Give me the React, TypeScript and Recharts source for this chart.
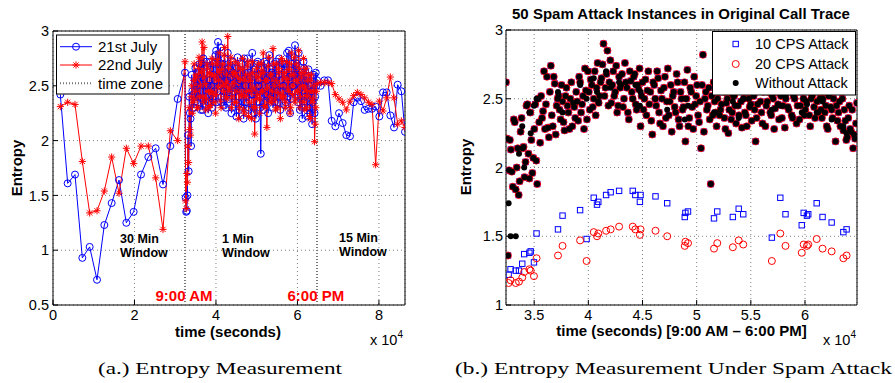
import React from 'react';
import {
  ComposedChart, ScatterChart, Line, Scatter, XAxis, YAxis,
  CartesianGrid, ReferenceLine, ReferenceArea,
} from 'recharts';

const SANS = '"Liberation Sans", Arial, Helvetica, sans-serif';
const SERIF = '"Liberation Serif", "DejaVu Serif", serif';

// ---------- shared time constants (seconds) ----------
const NINE_AM = 32400;
const SIX_PM = 64800;
const DAY_END = 86400;

// ---------- (a) Entropy Measurement ----------
const STEP_30MIN = 1800;
const STEP_1MIN_SAMPLED = 300;
const STEP_15MIN = 900;

// 30-minute window (00:30 .. 09:00)
const blue30 = [2.42, 1.61, 1.69, 0.93, 1.03, 0.73, 1.23, 1.43, 1.64, 1.25, 1.35, 1.69, 1.85, 1.93, 1.6, 1.95, 2.38, 2.62];
const red30 = [2.31, 2.35, 2.33, 1.81, 1.34, 1.36, 1.54, 1.85, 1.52, 1.93, 1.79, 1.95, 1.95, 1.66, 1.19, 2.09, 2.0, 2.72];

// 1-minute window (09:00 .. 18:00), samples on the full 5-min marks
const blue1 = [
  1.35, 1.5, 1.72, 2.25, 1.95, 2.45, 2.3, 2.52, 2.36, 2.62,
  2.4, 2.7, 2.28, 2.58, 2.75, 2.33, 2.5, 2.68, 2.25, 2.55,
  2.72, 2.3, 2.6, 2.45, 2.78, 2.35, 2.9, 2.5, 2.85, 2.4,
  2.7, 2.32, 2.62, 2.48, 2.8, 2.38, 2.65, 2.25, 2.72, 2.45,
  2.6, 2.22, 2.76, 2.4, 2.55, 2.3, 2.7, 2.2, 2.62, 2.35,
  2.75, 2.28, 2.58, 2.42, 2.8, 2.3, 2.65, 2.2, 2.7, 2.5,
  2.35, 1.88, 2.6, 2.28, 2.72, 2.42, 2.55, 2.25, 2.78, 2.4,
  2.62, 2.3, 2.7, 2.48, 2.58, 2.35, 2.75, 2.28, 2.65, 2.45,
  2.7, 2.32, 2.7, 2.4, 2.82, 2.25, 2.6, 2.5, 2.76, 2.87,
  2.68, 2.42, 2.8, 2.28, 2.62, 2.2, 2.72, 2.36, 2.55, 2.22,
  2.65, 2.3, 2.5, 2.15, 2.58, 2.25, 2.62, 2.55,
];
// ... and on the half-way marks between them
const blue1b = [
  1.48, 1.36, 2.05, 2.4, 2.2, 2.6, 2.42, 2.3, 2.66, 2.5,
  2.35, 2.62, 2.45, 2.7, 2.28, 2.56, 2.4, 2.72, 2.5, 2.35,
  2.65, 2.5, 2.38, 2.7, 2.55, 2.82, 2.45, 2.7, 2.58, 2.35,
  2.6, 2.45, 2.75, 2.3, 2.55, 2.66, 2.4, 2.58, 2.3, 2.62,
  2.48, 2.35, 2.66, 2.52, 2.28, 2.62, 2.45, 2.35, 2.75, 2.5,
  2.4, 2.62, 2.3, 2.7, 2.5, 2.42, 2.25, 2.6, 2.45, 2.72,
  2.55, 2.3, 2.45, 2.65, 2.35, 2.58, 2.7, 2.42, 2.5, 2.6,
  2.38, 2.66, 2.5, 2.35, 2.72, 2.45, 2.6, 2.4, 2.55, 2.7,
  2.5, 2.62, 2.35, 2.8, 2.45, 2.58, 2.38, 2.7, 2.5, 2.6,
  2.45, 2.7, 2.35, 2.6, 2.48, 2.3, 2.55, 2.66, 2.4, 2.58,
  2.3, 2.5, 2.25, 2.45, 2.35, 2.6, 2.4, 2.5,
];
const red1 = [
  1.38, 1.62, 1.8, 2.1, 2.4, 2.25, 2.55, 2.38, 2.6, 2.3,
  2.66, 2.4, 2.72, 2.9, 2.35, 2.58, 2.28, 2.7, 2.45, 2.62,
  2.32, 2.75, 2.42, 2.6, 2.25, 2.7, 2.48, 2.8, 2.36, 2.65,
  2.5, 2.78, 2.4, 2.6, 2.95, 2.45, 2.7, 2.3, 2.62, 2.52,
  2.72, 2.35, 2.58, 2.2, 2.66, 2.42, 2.75, 2.28, 2.55, 2.4,
  2.68, 2.22, 2.6, 2.45, 2.72, 2.3, 2.06, 2.58, 2.38, 2.7,
  2.25, 2.62, 2.45, 2.8, 2.32, 2.55, 2.12, 2.68, 2.4, 2.6,
  2.35, 2.84, 2.5, 2.28, 2.7, 2.44, 2.62, 2.2, 2.75, 2.38,
  2.58, 2.3, 2.72, 2.48, 2.65, 2.25, 2.8, 2.42, 2.6, 2.35,
  2.7, 2.45, 2.82, 2.3, 2.62, 2.5, 2.75, 2.28, 2.66, 2.4,
  2.6, 2.22, 2.55, 2.35, 2.45, 1.99, 2.3, 2.52,
];
const red1b = [
  1.45, 1.7, 1.95, 2.3, 2.05, 2.5, 2.35, 2.7, 2.45, 2.58,
  2.3, 2.76, 2.5, 2.62, 2.4, 2.85, 2.52, 2.38, 2.66, 2.3,
  2.6, 2.45, 2.7, 2.35, 2.58, 2.42, 2.74, 2.55, 2.62, 2.3,
  2.7, 2.45, 2.85, 2.52, 2.38, 2.66, 2.48, 2.76, 2.4, 2.6,
  2.35, 2.62, 2.45, 2.7, 2.3, 2.56, 2.4, 2.65, 2.25, 2.6,
  2.45, 2.72, 2.35, 2.55, 2.2, 2.62, 2.48, 2.3, 2.66, 2.42,
  2.58, 2.38, 2.7, 2.45, 2.62, 2.3, 2.55, 2.48, 2.76, 2.35,
  2.6, 2.45, 2.7, 2.38, 2.55, 2.3, 2.66, 2.5, 2.42, 2.72,
  2.4, 2.62, 2.35, 2.56, 2.45, 2.7, 2.3, 2.6, 2.5, 2.76,
  2.38, 2.55, 2.45, 2.66, 2.4, 2.58, 2.35, 2.62, 2.48, 2.3,
  2.55, 2.45, 2.2, 2.6, 2.38, 2.5, 2.15, 2.45,
];

// 15-minute window (18:15 .. 24:00)
const blue15 = [2.5, 2.55, 2.55, 2.18, 2.13, 2.25, 2.16, 2.05, 2.04, 2.35, 2.39, 2.36, 2.28, 2.29, 2.29, 2.31, 2.22, 2.44, 2.44, 2.23, 2.12, 2.51, 2.45, 2.08];
const red15 = [2.53, 2.53, 2.53, 2.52, 2.42, 2.38, 2.35, 2.28, 2.36, 2.41, 2.44, 2.42, 2.39, 2.35, 2.33, 1.78, 2.36, 2.27, 2.39, 2.58, 2.39, 2.15, 2.18, 2.12];

const xTicksA = [0, 20000, 40000, 60000, 80000];
const yTicksA = [0.5, 1, 1.5, 2, 2.5, 3];

// ---------- (b) Entropy under spam attack ----------
const STEP_B = 180;
const baseEntropy = [
  2.62, 1.36, 2.2, 1.97, 2.35, 1.84, 2.14, 1.9, 2.36, 2.15, 2.04, 2.46, 1.92, 2.2, 2.07, 2.46, 1.88, 2.33,
  2.52, 2.41, 2.28, 2.66, 2.22, 2.74, 2.3, 2.61, 2.45, 2.52, 2.35, 2.48, 2.27, 2.58, 2.4, 2.5, 2.3, 2.44,
  2.55, 2.34, 2.62, 2.46, 2.28, 2.56, 2.7, 2.42, 2.6, 2.5, 2.38, 2.76, 2.52, 2.65, 2.9, 2.58, 2.85, 2.62,
  2.47, 2.7, 2.55, 2.4, 2.66, 2.6, 2.44, 2.76, 2.58, 2.35, 2.63, 2.5, 2.68, 2.42, 2.57, 2.3, 2.62, 2.5,
  2.38, 2.7, 2.55, 2.24, 2.6, 2.45, 2.65, 2.32, 2.5, 2.58, 2.36, 2.72, 2.48, 2.26, 2.55, 2.4, 2.62, 2.3,
  2.5, 2.44, 2.19, 2.71, 2.36, 2.55, 2.28, 2.46, 2.6, 2.33, 2.14, 2.82, 2.5, 2.42, 2.58, 1.88, 2.38, 2.48,
  2.3, 2.55, 2.42, 2.62, 2.36, 2.47, 2.25, 2.58, 2.4, 2.52, 2.32, 2.45, 2.6, 2.29, 2.5, 2.38, 2.56, 2.44,
  2.34, 2.52, 2.19, 2.46, 2.6, 2.4, 2.55, 2.3, 2.48, 2.65, 2.38, 2.5, 2.43, 2.58, 2.35, 2.52, 2.45, 2.29,
  2.55, 2.42, 2.6, 2.36, 2.5, 2.32, 2.57, 2.45, 2.62, 2.38, 2.48, 2.56, 2.3, 2.52, 2.44, 2.6, 2.4, 2.5,
  2.36, 2.55, 2.45, 2.28, 2.58, 2.42, 2.5, 2.19, 2.34, 2.48, 2.55, 2.27, 2.34, 2.22, 2.45, 2.26, 2.14, 2.21, 2.47,
];
// samples half-way between the ones above
const baseEntropyMid = [
  2.21, 1.98, 2.13, 1.86, 2.33, 2.0, 1.8, 2.26, 2.14, 1.93, 2.45, 2.1, 2.4, 1.96, 2.28, 2.05, 2.5, 2.18,
  2.36, 2.7, 2.46, 2.29, 2.55, 2.38, 2.66, 2.24, 2.5, 2.42, 2.6, 2.33, 2.52, 2.45, 2.28, 2.62, 2.47, 2.36,
  2.48, 2.66, 2.4, 2.52, 2.72, 2.35, 2.55, 2.64, 2.44, 2.7, 2.58, 2.47, 2.62, 2.75, 2.52, 2.68, 2.45, 2.78,
  2.6, 2.52, 2.74, 2.45, 2.58, 2.68, 2.5, 2.62, 2.4, 2.7, 2.55, 2.66, 2.46, 2.6, 2.72, 2.52, 2.42, 2.64,
  2.56, 2.46, 2.34, 2.62, 2.5, 2.7, 2.4, 2.56, 2.3, 2.66, 2.48, 2.38, 2.6, 2.52, 2.44, 2.68, 2.35, 2.55,
  2.42, 2.62, 2.5, 2.3, 2.58, 2.44, 2.66, 2.52, 2.38, 2.48, 2.6, 2.26, 2.55, 2.45, 2.35, 2.52, 2.62, 2.4,
  2.5, 2.38, 2.46, 2.55, 2.28, 2.5, 2.42, 2.35, 2.52, 2.45, 2.58, 2.38, 2.48, 2.55, 2.4, 2.3, 2.5, 2.46,
  2.55, 2.42, 2.36, 2.58, 2.48, 2.32, 2.62, 2.45, 2.55, 2.4, 2.52, 2.28, 2.6, 2.46, 2.54, 2.36, 2.6, 2.5,
  2.44, 2.62, 2.38, 2.52, 2.58, 2.45, 2.35, 2.6, 2.5, 2.42, 2.66, 2.38, 2.5, 2.58, 2.36, 2.48, 2.55, 2.42,
  2.5, 2.4, 2.3, 2.52, 2.44, 2.36, 2.6, 2.45, 2.4, 2.3, 2.5, 2.42, 2.2, 2.36, 2.28, 2.42, 2.24, 2.32,
];
const attackTimes = [
  32640, 32820, 33300, 33600, 33900, 34080, 34560, 34680, 34980, 35220,
  37200, 37620, 39240, 39840, 40500, 40800, 40920, 41640, 42060, 42840,
  44100, 44340, 44760, 44820, 46200, 47280, 48900, 48960, 49200, 51600,
  51900, 53340, 53880, 54300, 56940, 57720, 58200, 59700, 59880, 60180,
  60300, 61080, 61620, 62460, 63540, 63840,
];
const attackOrig = [
  1.74, 1.5, 1.5, 2.1, 2.3, 2.0, 2.4, 2.25, 2.45, 2.5,
  2.55, 2.4, 2.6, 2.5, 2.65, 2.55, 2.48, 2.7, 2.58, 2.62,
  2.5, 2.6, 2.45, 2.55, 2.5, 2.42, 2.35, 2.5, 2.45, 2.4,
  2.55, 2.48, 2.36, 2.5, 2.42, 2.45, 2.52, 2.4, 2.5, 2.46,
  2.55, 2.4, 2.48, 2.35, 2.3, 2.25,
];
const attack10 = [
  1.22, 1.26, 1.25, 1.25, 1.30, 1.37, 1.38, 1.39, 1.31, 1.52,
  1.55, 1.65, 1.69, 1.48, 1.78, 1.73, 1.75, 1.80, 1.82, 1.83,
  1.83, 1.80, 1.75, 1.80, 1.79, 1.74, 1.64, 1.67, 1.68, 1.63,
  1.68, 1.64, 1.70, 1.66, 1.49, 1.78, 1.66, 1.58, 1.67, 1.65,
  1.66, 1.74, 1.64, 1.60, 1.53, 1.55,
];
const attack20 = [
  1.16, 1.18, 1.16, 1.17, 1.20, 1.24, 1.26, 1.25, 1.21, 1.34,
  1.36, 1.43, 1.47, 1.32, 1.53, 1.50, 1.52, 1.54, 1.55, 1.57,
  1.57, 1.55, 1.51, 1.55, 1.54, 1.50, 1.43, 1.46, 1.45, 1.41,
  1.45, 1.42, 1.47, 1.44, 1.32, 1.52, 1.43, 1.38, 1.44, 1.43,
  1.44, 1.48, 1.41, 1.39, 1.34, 1.36,
];
const xTicksB = [35000, 40000, 45000, 50000, 55000, 60000];
const yTicksB = [1, 1.5, 2, 2.5, 3];

// ---------- derived tables ----------
const buildA = (w30: number[], w1: number[], w1b: number[], w15: number[]) => {
  const rows: { t: number; v: number }[] = [];
  w30.forEach((v, k) => rows.push({ t: STEP_30MIN * (k + 1), v }));
  w1.forEach((v, k) => {
    rows.push({ t: NINE_AM + STEP_1MIN_SAMPLED * k + STEP_1MIN_SAMPLED / 2, v: w1b[k] });
    rows.push({ t: NINE_AM + STEP_1MIN_SAMPLED * (k + 1), v });
  });
  w15.forEach((v, k) => rows.push({ t: SIX_PM + STEP_15MIN * (k + 1), v }));
  return rows;
};
const july21 = buildA(blue30, blue1, blue1b, blue15);
const july22 = buildA(red30, red1, red1b, red15);

const baseData = [
  ...baseEntropy.map((v, i) => ({ t: NINE_AM + STEP_B * i, v })),
  ...baseEntropyMid.map((v, i) => ({ t: NINE_AM + STEP_B * i + STEP_B / 2, v })),
];
const withAttack = (vals: number[]) => [...baseData, ...attackTimes.map((t, i) => ({ t, v: vals[i] }))];
const seriesNo = withAttack(attackOrig);
const series10 = withAttack(attack10);
const series20 = withAttack(attack20);

// ---------- markers ----------
const StarDot = (p: any) => {
  const { cx, cy } = p;
  if (cx == null || cy == null) return <g key={`st-${p.index}`} />;
  const r = 3.6, d = 2.6;
  return (
    <g key={`st-${p.index}`} stroke="#ff0000" strokeWidth={1}>
      <line x1={cx - r} y1={cy} x2={cx + r} y2={cy} />
      <line x1={cx} y1={cy - r} x2={cx} y2={cy + r} />
      <line x1={cx - d} y1={cy - d} x2={cx + d} y2={cy + d} />
      <line x1={cx - d} y1={cy + d} x2={cx + d} y2={cy - d} />
    </g>
  );
};
const SquareShape = (p: any) => (
  <rect x={p.cx - 2.7} y={p.cy - 2.7} width={5.4} height={5.4} fill="none" stroke="#0000ff" strokeWidth={1} />
);
const RingShape = (p: any) => (
  <circle cx={p.cx} cy={p.cy} r={3.5} fill="none" stroke="#ff0000" strokeWidth={1} />
);
const DotShape = (p: any) => <circle cx={p.cx} cy={p.cy} r={3} fill="#000" />;

const tickStyle = { fontSize: 14.5, fill: '#000', fontFamily: SANS };
const fmt4 = (v: number) => String(v / 10000);

export default function App() {
  return (
    <div style={{ position: 'absolute', left: 0, top: 0, width: 895, height: 383, background: '#fff', fontFamily: SANS }}>
      {/* (a) */}
      <div style={{ position: 'absolute', left: 0, top: 0 }}>
        <ComposedChart width={430} height={383} margin={{ top: 31, right: 25, bottom: 48, left: 8 }}>
          <CartesianGrid stroke="#808080" strokeDasharray="1 3" />
          <XAxis
            type="number" dataKey="t" domain={[0, DAY_END]} ticks={xTicksA} interval={0}
            allowDataOverflow tickFormatter={fmt4} height={30} axisLine={false}
            tickSize={-5} tickMargin={9.5} tickLine={{ stroke: '#000' }} tick={tickStyle}
          />
          <YAxis
            type="number" dataKey="v" domain={[0.5, 3]} ticks={yTicksA} interval={0}
            allowDataOverflow width={45} axisLine={false}
            tickSize={-5} tickMargin={9} tickLine={{ stroke: '#000' }} tick={tickStyle}
          />
          <ReferenceLine x={NINE_AM} stroke="#777" strokeWidth={2} strokeDasharray="1 2" />
          <ReferenceLine x={SIX_PM} stroke="#777" strokeWidth={2} strokeDasharray="1 2" />
          <Line
            data={july21} dataKey="v" type="linear" stroke="#0000ff" strokeWidth={1}
            dot={{ r: 3.5, fill: 'none', stroke: '#0000ff', strokeWidth: 1 }}
            activeDot={false} isAnimationActive={false}
          />
          <Line
            data={july22} dataKey="v" type="linear" stroke="#ff0000" strokeWidth={1}
            dot={StarDot} activeDot={false} isAnimationActive={false}
          />
          <ReferenceArea x1={0} x2={DAY_END} y1={0.5} y2={3} fill="none" stroke="#000" strokeWidth={1} />
        </ComposedChart>
      </div>

      {/* (b) */}
      <div style={{ position: 'absolute', left: 440, top: 0 }}>
        <ScatterChart width={455} height={383} margin={{ top: 30, right: 38, bottom: 48, left: 21 }}>
          <CartesianGrid stroke="#808080" strokeDasharray="1 3" />
          <XAxis
            type="number" dataKey="t" domain={[NINE_AM, SIX_PM]} ticks={xTicksB} interval={0}
            allowDataOverflow tickFormatter={fmt4} height={30} axisLine={false}
            tickSize={-5} tickMargin={9.5} tickLine={{ stroke: '#000' }} tick={tickStyle}
          />
          <YAxis
            type="number" dataKey="v" domain={[1, 3]} ticks={yTicksB} interval={0}
            allowDataOverflow width={45} axisLine={false}
            tickSize={-5} tickMargin={8} tickLine={{ stroke: '#000' }} tick={tickStyle}
          />
          <Scatter data={series10} shape={SquareShape} isAnimationActive={false} />
          <Scatter data={series20} shape={RingShape} isAnimationActive={false} />
          <Scatter data={seriesNo} shape={DotShape} isAnimationActive={false} />
          <ReferenceArea x1={NINE_AM} x2={SIX_PM} y1={1} y2={3} fill="none" stroke="#000" strokeWidth={1} />
        </ScatterChart>
      </div>

      {/* text & legends */}
      <svg width={895} height={383} style={{ position: 'absolute', left: 0, top: 0, pointerEvents: 'none' }}>
        <g fontFamily={SANS} fill="#000">
          {/* panel a labels */}
          <text transform="translate(21.5,168) rotate(-90)" textAnchor="middle" fontSize={15} fontWeight="bold">Entropy</text>
          <text x={228} y={337} textAnchor="middle" fontSize={15} fontWeight="bold">time (seconds)</text>
          <text x={370} y={345} fontSize={14.5}>x 10<tspan fontSize={10} dy={-7}>4</tspan></text>
          <g fontSize={12.5} fontWeight="bold">
            <text x={120} y={243}>30 Min</text>
            <text x={120} y={257}>Window</text>
            <text x={222} y={243}>1 Min</text>
            <text x={222} y={257}>Window</text>
            <text x={339} y={242}>15 Min</text>
            <text x={339} y={256}>Window</text>
          </g>
          <g fontSize={15} fontWeight="bold" fill="#ff0000">
            <text x={155.5} y={301}>9:00 AM</text>
            <text x={287.5} y={301}>6:00 PM</text>
          </g>

          {/* legend a */}
          <rect x={56.5} y={35} width={112.5} height={59} fill="#fff" stroke="#000" strokeWidth={1} />
          <line x1={60} y1={46.7} x2={92} y2={46.7} stroke="#0000ff" strokeWidth={1} />
          <circle cx={76} cy={46.7} r={3.5} fill="none" stroke="#0000ff" strokeWidth={1} />
          <text x={98} y={52} fontSize={15}>21st July</text>
          <line x1={60} y1={65} x2={92} y2={65} stroke="#ff0000" strokeWidth={1} />
          {StarDot({ cx: 76, cy: 65, index: 'leg' })}
          <text x={98} y={70.3} fontSize={15}>22nd July</text>
          <line x1={60} y1={83.3} x2={92} y2={83.3} stroke="#777" strokeWidth={2} strokeDasharray="1 2" />
          <text x={98} y={88.6} fontSize={15}>time zone</text>

          {/* panel b labels */}
          <text x={681} y={18.5} textAnchor="middle" fontSize={15} fontWeight="bold">50 Spam Attack Instances in Original Call Trace</text>
          <text transform="translate(471,167) rotate(-90)" textAnchor="middle" fontSize={15} fontWeight="bold">Entropy</text>
          <text x={681.5} y={336} textAnchor="middle" fontSize={15} fontWeight="bold">time (seconds) [9:00 AM – 6:00 PM]</text>
          <text x={823} y={345} fontSize={14.5}>x 10<tspan fontSize={10} dy={-7}>4</tspan></text>

          {/* legend b */}
          <rect x={712.5} y={31.5} width={143} height={63.5} fill="#fff" stroke="#000" strokeWidth={1} />
          <rect x={733} y={41.3} width={5.4} height={5.4} fill="none" stroke="#0000ff" strokeWidth={1} />
          <text x={755} y={49.3} fontSize={14.5}>10 CPS Attack</text>
          <circle cx={735.7} cy={64} r={3.5} fill="none" stroke="#ff0000" strokeWidth={1} />
          <text x={755} y={69.3} fontSize={14.5}>20 CPS Attack</text>
          <circle cx={735.7} cy={83} r={3} fill="#000" />
          <text x={755} y={88.3} fontSize={14.5}>Without Attack</text>
        </g>

        {/* captions */}
        <g fontFamily={SERIF} fontSize={17} fill="#000">
          <text x={98} y={374} textLength={244} lengthAdjust="spacingAndGlyphs">(a.) Entropy Measurement</text>
          <text x={455} y={373.5} textLength={437} lengthAdjust="spacingAndGlyphs">(b.) Entropy Measurement Under Spam Attack</text>
        </g>
      </svg>
    </div>
  );
}
